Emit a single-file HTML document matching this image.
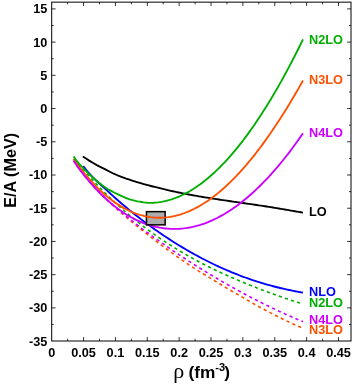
<!DOCTYPE html>
<html><head><meta charset="utf-8"><title>E/A vs rho</title>
<style>html,body{margin:0;padding:0;background:#fff;}svg{display:block;will-change:transform;}</style></head>
<body>
<svg width="355" height="384" viewBox="0 0 355 384">
<rect x="0" y="0" width="355" height="384" fill="#fff"/>
<path d="M300.10,303.08 L299.60,302.93 L297.60,302.33 L295.60,301.70 L293.60,301.07 L291.60,300.42 L289.60,299.76 L287.60,299.09 L285.60,298.41 L283.60,297.71 L281.60,297.01 L279.60,296.30 L277.60,295.59 L275.60,294.86 L273.60,294.13 L271.60,293.40 L269.60,292.66 L267.60,291.92 L265.60,291.17 L263.60,290.42 L261.60,289.67 L259.60,288.90 L257.60,288.14 L255.60,287.36 L253.60,286.58 L251.60,285.80 L249.60,285.00 L247.60,284.20 L245.60,283.39 L243.60,282.57 L241.60,281.75 L239.60,280.91 L237.60,280.07 L235.60,279.22 L233.60,278.35 L231.60,277.48 L229.60,276.60 L227.60,275.71 L225.60,274.81 L223.60,273.90 L221.60,272.98 L219.60,272.05 L217.60,271.11 L215.60,270.16 L213.60,269.20 L211.60,268.23 L209.60,267.24 L207.60,266.24 L205.60,265.23 L203.60,264.21 L201.60,263.17 L199.60,262.12 L197.60,261.06 L195.60,259.99 L193.60,258.90 L191.60,257.79 L189.60,256.68 L187.60,255.54 L185.60,254.40 L183.60,253.24 L181.60,252.06 L179.60,250.87 L177.60,249.66 L175.60,248.44 L173.60,247.20 L171.60,245.95 L169.60,244.67 L167.60,243.39 L165.60,242.08 L163.60,240.76 L161.60,239.42 L159.60,238.07 L157.60,236.69 L155.60,235.30 L153.60,233.89 L151.60,232.47 L149.60,231.02 L147.60,229.55 L145.60,228.06 L143.60,226.56 L141.60,225.03 L139.60,223.48 L137.60,221.91 L135.60,220.31 L133.60,218.70 L131.60,217.06 L129.60,215.40 L127.60,213.71 L125.60,212.00 L123.60,210.26 L121.60,208.51 L119.60,206.72 L117.60,204.92 L115.60,203.08 L113.60,201.23 L111.60,199.34 L109.60,197.43 L107.60,195.49 L105.60,193.52 L103.60,191.53 L101.60,189.51 L99.60,187.45 L97.60,185.37 L95.60,183.26 L93.60,181.12 L91.60,178.95 L89.60,176.75 L87.60,174.51 L85.60,172.25 L83.60,169.96 L81.60,167.65 L79.60,165.30 L77.60,162.87 L75.60,160.33 L73.60,157.66" fill="none" stroke="#00ae00" stroke-width="1.6" stroke-linecap="butt" stroke-linejoin="round" stroke-dasharray="3.2 3.2"/>
<path d="M301.10,327.46 L299.60,326.83 L297.60,325.96 L295.60,325.08 L293.60,324.18 L291.60,323.27 L289.60,322.34 L287.60,321.39 L285.60,320.43 L283.60,319.46 L281.60,318.47 L279.60,317.48 L277.60,316.47 L275.60,315.46 L273.60,314.43 L271.60,313.40 L269.60,312.36 L267.60,311.32 L265.60,310.26 L263.60,309.20 L261.60,308.13 L259.60,307.05 L257.60,305.95 L255.60,304.84 L253.60,303.71 L251.60,302.57 L249.60,301.41 L247.60,300.25 L245.60,299.09 L243.60,297.92 L241.60,296.75 L239.60,295.59 L237.60,294.43 L235.60,293.28 L233.60,292.12 L231.60,290.96 L229.60,289.80 L227.60,288.62 L225.60,287.44 L223.60,286.24 L221.60,285.02 L219.60,283.80 L217.60,282.57 L215.60,281.33 L213.60,280.10 L211.60,278.88 L209.60,277.66 L207.60,276.45 L205.60,275.25 L203.60,274.04 L201.60,272.84 L199.60,271.62 L197.60,270.40 L195.60,269.15 L193.60,267.88 L191.60,266.59 L189.60,265.27 L187.60,263.93 L185.60,262.58 L183.60,261.21 L181.60,259.82 L179.60,258.42 L177.60,257.00 L175.60,255.58 L173.60,254.14 L171.60,252.69 L169.60,251.23 L167.60,249.75 L165.60,248.27 L163.60,246.78 L161.60,245.28 L159.60,243.77 L157.60,242.25 L155.60,240.73 L153.60,239.20 L151.60,237.66 L149.60,236.11 L147.60,234.55 L145.60,232.98 L143.60,231.40 L141.60,229.80 L139.60,228.20 L137.60,226.58 L135.60,224.95 L133.60,223.30 L131.60,221.65 L129.60,219.97 L127.60,218.29 L125.60,216.59 L123.60,214.87 L121.60,213.14 L119.60,211.39 L117.60,209.63 L115.60,207.84 L113.60,206.04 L111.60,204.22 L109.60,202.37 L107.60,200.49 L105.60,198.57 L103.60,196.62 L101.60,194.61 L99.60,192.56 L97.60,190.44 L95.60,188.27 L93.60,186.02 L91.60,183.70 L89.60,181.30 L87.60,178.81 L85.60,176.24 L83.60,173.57 L81.60,170.82 L79.60,167.95 L77.60,164.93 L75.60,161.71 L73.60,158.26" fill="none" stroke="#ff5000" stroke-width="1.6" stroke-linecap="butt" stroke-linejoin="round" stroke-dasharray="3.2 3.2"/>
<path d="M303.00,321.66 L301.60,321.09 L299.60,320.26 L297.60,319.42 L295.60,318.57 L293.60,317.71 L291.60,316.84 L289.60,315.96 L287.60,315.08 L285.60,314.18 L283.60,313.28 L281.60,312.36 L279.60,311.44 L277.60,310.51 L275.60,309.57 L273.60,308.62 L271.60,307.67 L269.60,306.71 L267.60,305.74 L265.60,304.76 L263.60,303.77 L261.60,302.78 L259.60,301.78 L257.60,300.77 L255.60,299.75 L253.60,298.72 L251.60,297.68 L249.60,296.64 L247.60,295.59 L245.60,294.53 L243.60,293.46 L241.60,292.39 L239.60,291.30 L237.60,290.21 L235.60,289.11 L233.60,288.01 L231.60,286.89 L229.60,285.77 L227.60,284.64 L225.60,283.50 L223.60,282.36 L221.60,281.20 L219.60,280.04 L217.60,278.87 L215.60,277.69 L213.60,276.50 L211.60,275.30 L209.60,274.10 L207.60,272.89 L205.60,271.67 L203.60,270.44 L201.60,269.20 L199.60,267.96 L197.60,266.71 L195.60,265.45 L193.60,264.18 L191.60,262.91 L189.60,261.62 L187.60,260.33 L185.60,259.03 L183.60,257.72 L181.60,256.40 L179.60,255.07 L177.60,253.74 L175.60,252.40 L173.60,251.05 L171.60,249.69 L169.60,248.33 L167.60,246.95 L165.60,245.57 L163.60,244.18 L161.60,242.78 L159.60,241.38 L157.60,239.96 L155.60,238.54 L153.60,237.11 L151.60,235.66 L149.60,234.21 L147.60,232.74 L145.60,231.26 L143.60,229.77 L141.60,228.27 L139.60,226.76 L137.60,225.23 L135.60,223.68 L133.60,222.12 L131.60,220.55 L129.60,218.96 L127.60,217.35 L125.60,215.73 L123.60,214.09 L121.60,212.43 L119.60,210.75 L117.60,209.04 L115.60,207.32 L113.60,205.58 L111.60,203.82 L109.60,202.02 L107.60,200.20 L105.60,198.35 L103.60,196.45 L101.60,194.51 L99.60,192.53 L97.60,190.49 L95.60,188.40 L93.60,186.24 L91.60,184.02 L89.60,181.72 L87.60,179.35 L85.60,176.91 L83.60,174.39 L81.60,171.81 L79.60,169.12 L77.60,166.28 L75.60,163.22 L73.60,159.90" fill="none" stroke="#cc00ff" stroke-width="1.6" stroke-linecap="butt" stroke-linejoin="round" stroke-dasharray="3.2 3.2" stroke-dashoffset="1.4"/>
<path d="M82.80,156.47 L84.80,157.78 L86.80,159.09 L88.80,160.37 L90.80,161.62 L92.80,162.83 L94.80,164.00 L96.80,165.12 L98.80,166.18 L100.80,167.18 L102.80,168.16 L104.80,169.15 L106.80,170.16 L108.80,171.21 L110.80,172.25 L112.80,173.25 L114.80,174.18 L116.80,175.02 L118.80,175.81 L120.80,176.56 L122.80,177.30 L124.80,178.04 L126.80,178.77 L128.80,179.48 L130.80,180.16 L132.80,180.81 L134.80,181.43 L136.80,182.03 L138.80,182.62 L140.80,183.20 L142.80,183.79 L144.80,184.37 L146.80,184.93 L148.80,185.48 L150.80,185.99 L152.80,186.49 L154.80,186.96 L156.80,187.43 L158.80,187.90 L160.80,188.37 L162.80,188.85 L164.80,189.34 L166.80,189.83 L168.80,190.31 L170.80,190.78 L172.80,191.23 L174.80,191.67 L176.80,192.10 L178.80,192.51 L180.80,192.92 L182.80,193.33 L184.80,193.72 L186.80,194.11 L188.80,194.49 L190.80,194.87 L192.80,195.23 L194.80,195.59 L196.80,195.95 L198.80,196.30 L200.80,196.64 L202.80,196.97 L204.80,197.30 L206.80,197.63 L208.80,197.95 L210.80,198.27 L212.80,198.58 L214.80,198.89 L216.80,199.20 L218.80,199.50 L220.80,199.81 L222.80,200.10 L224.80,200.40 L226.80,200.69 L228.80,200.98 L230.80,201.27 L232.80,201.56 L234.80,201.85 L236.80,202.13 L238.80,202.42 L240.80,202.70 L242.80,202.99 L244.80,203.28 L246.80,203.56 L248.80,203.85 L250.80,204.14 L252.80,204.43 L254.80,204.72 L256.80,205.01 L258.80,205.31 L260.80,205.61 L262.80,205.91 L264.80,206.22 L266.80,206.52 L268.80,206.84 L270.80,207.16 L272.80,207.48 L274.80,207.81 L276.80,208.15 L278.80,208.48 L280.80,208.82 L282.80,209.16 L284.80,209.51 L286.80,209.85 L288.80,210.19 L290.80,210.54 L292.80,210.88 L294.80,211.22 L296.80,211.56 L298.80,211.89 L300.80,212.22 L302.80,212.55 L303.00,212.58" fill="none" stroke="#000000" stroke-width="1.85" stroke-linecap="butt" stroke-linejoin="round"/>
<path d="M83.20,166.03 L85.20,168.60 L87.20,171.03 L89.20,173.33 L91.20,175.52 L93.20,177.60 L95.20,179.60 L97.20,181.53 L99.20,183.39 L101.20,185.22 L103.20,187.03 L105.20,188.83 L107.20,190.66 L109.20,192.49 L111.20,194.33 L113.20,196.16 L115.20,197.95 L117.20,199.72 L119.20,201.46 L121.20,203.18 L123.20,204.88 L125.20,206.57 L127.20,208.23 L129.20,209.89 L131.20,211.52 L133.20,213.13 L135.20,214.72 L137.20,216.29 L139.20,217.84 L141.20,219.38 L143.20,220.90 L145.20,222.41 L147.20,223.90 L149.20,225.37 L151.20,226.82 L153.20,228.25 L155.20,229.67 L157.20,231.07 L159.20,232.46 L161.20,233.83 L163.20,235.18 L165.20,236.52 L167.20,237.85 L169.20,239.15 L171.20,240.44 L173.20,241.72 L175.20,242.97 L177.20,244.22 L179.20,245.44 L181.20,246.66 L183.20,247.85 L185.20,249.03 L187.20,250.20 L189.20,251.35 L191.20,252.49 L193.20,253.61 L195.20,254.72 L197.20,255.81 L199.20,256.89 L201.20,257.95 L203.20,259.00 L205.20,260.03 L207.20,261.04 L209.20,262.04 L211.20,263.03 L213.20,264.00 L215.20,264.96 L217.20,265.90 L219.20,266.82 L221.20,267.73 L223.20,268.63 L225.20,269.51 L227.20,270.37 L229.20,271.22 L231.20,272.06 L233.20,272.88 L235.20,273.68 L237.20,274.48 L239.20,275.25 L241.20,276.02 L243.20,276.77 L245.20,277.50 L247.20,278.22 L249.20,278.93 L251.20,279.62 L253.20,280.29 L255.20,280.96 L257.20,281.60 L259.20,282.23 L261.20,282.85 L263.20,283.45 L265.20,284.04 L267.20,284.61 L269.20,285.17 L271.20,285.71 L273.20,286.24 L275.20,286.76 L277.20,287.26 L279.20,287.75 L281.20,288.23 L283.20,288.69 L285.20,289.14 L287.20,289.59 L289.20,290.01 L291.20,290.43 L293.20,290.84 L295.20,291.24 L297.20,291.63 L299.20,292.01 L301.20,292.37 L303.00,292.70" fill="none" stroke="#0000ff" stroke-width="1.85" stroke-linecap="butt" stroke-linejoin="round"/>
<path d="M73.60,158.88 L75.60,161.78 L77.60,164.56 L79.60,167.22 L81.60,169.80 L83.60,172.29 L85.60,174.72 L87.60,177.09 L89.60,179.38 L91.60,181.60 L93.60,183.75 L95.60,185.83 L97.60,187.85 L99.60,189.79 L101.60,191.67 L103.60,193.49 L105.60,195.23 L107.60,196.90 L109.60,198.51 L111.60,200.05 L113.60,201.52 L115.60,202.93 L117.60,204.27 L119.60,205.55 L121.60,206.77 L123.60,207.91 L124.00,208.13" fill="none" stroke="#ff5000" stroke-width="1.85" stroke-linecap="butt" stroke-linejoin="round"/>
<path d="M73.60,160.75 L75.60,163.82 L77.60,166.69 L79.60,169.42 L81.60,172.03 L83.60,174.56 L85.60,177.05 L87.60,179.48 L89.60,181.85 L91.60,184.16 L93.60,186.40 L95.60,188.57 L97.60,190.69 L99.60,192.74 L101.60,194.72 L103.60,196.65 L105.60,198.52 L107.60,200.33 L109.60,202.09 L111.60,203.78 L113.60,205.41 L115.60,206.98 L117.60,208.50 L119.60,209.96 L121.60,211.36 L123.60,212.70 L125.60,213.99 L127.60,215.22 L129.60,216.40 L131.60,217.52 L133.60,218.59 L135.60,219.60 L137.60,220.55 L139.60,221.46 L141.60,222.31 L143.60,223.10 L145.60,223.85 L147.60,224.54 L149.60,225.18 L151.60,225.77 L153.60,226.30 L155.60,226.79 L157.60,227.22 L159.60,227.61 L161.60,227.94 L163.60,228.23 L165.60,228.46 L167.60,228.65 L169.60,228.79 L171.60,228.88 L173.60,228.92 L175.60,228.91 L177.60,228.86 L179.60,228.76 L181.60,228.61 L183.60,228.41 L185.60,228.16 L187.60,227.86 L189.60,227.52 L191.60,227.13 L193.60,226.69 L195.60,226.20 L197.60,225.66 L199.60,225.08 L201.60,224.45 L203.60,223.77 L205.60,223.05 L207.60,222.28 L209.60,221.46 L211.60,220.60 L213.60,219.68 L215.60,218.73 L217.60,217.73 L219.60,216.68 L221.60,215.58 L223.60,214.44 L225.60,213.26 L227.60,212.03 L229.60,210.75 L231.60,209.43 L233.60,208.07 L235.60,206.65 L237.60,205.20 L239.60,203.70 L241.60,202.15 L243.60,200.56 L245.60,198.92 L247.60,197.24 L249.60,195.52 L251.60,193.75 L253.60,191.94 L255.60,190.08 L257.60,188.18 L259.60,186.23 L261.60,184.24 L263.60,182.21 L265.60,180.13 L267.60,178.02 L269.60,175.86 L271.60,173.66 L273.60,171.41 L275.60,169.13 L277.60,166.80 L279.60,164.42 L281.60,162.01 L283.60,159.54 L285.60,157.03 L287.60,154.48 L289.60,151.87 L291.60,149.22 L293.60,146.52 L295.60,143.77 L297.60,140.97 L299.60,138.12 L301.60,135.22 L303.00,133.16" fill="none" stroke="#cc00ff" stroke-width="1.85" stroke-linecap="butt" stroke-linejoin="round"/>
<rect x="146.45" y="211.65" width="18.7" height="13.2" fill="#adadad" stroke="#000" stroke-width="1.5"/>
<path d="M118.00,204.53 L120.00,205.80 L122.00,207.00 L124.00,208.13 L126.00,209.20 L128.00,210.21 L130.00,211.15 L132.00,212.03 L134.00,212.84 L136.00,213.58 L138.00,214.27 L140.00,214.89 L142.00,215.45 L144.00,215.95 L146.00,216.38 L148.00,216.76 L150.00,217.07 L152.00,217.32 L154.00,217.51 L156.00,217.64 L158.00,217.71 L160.00,217.72 L162.00,217.67 L164.00,217.56 L166.00,217.39 L168.00,217.16 L170.00,216.87 L172.00,216.53 L174.00,216.12 L176.00,215.66 L178.00,215.15 L180.00,214.57 L182.00,213.94 L184.00,213.25 L186.00,212.50 L188.00,211.70 L190.00,210.84 L192.00,209.92 L194.00,208.96 L196.00,207.93 L198.00,206.85 L200.00,205.72 L202.00,204.53 L204.00,203.29 L206.00,202.00 L208.00,200.65 L210.00,199.25 L212.00,197.80 L214.00,196.29 L216.00,194.73 L218.00,193.12 L220.00,191.46 L222.00,189.75 L224.00,187.98 L226.00,186.17 L228.00,184.30 L230.00,182.38 L232.00,180.42 L234.00,178.40 L236.00,176.34 L238.00,174.22 L240.00,172.06 L242.00,169.85 L244.00,167.59 L246.00,165.28 L248.00,162.92 L250.00,160.52 L252.00,158.06 L254.00,155.57 L256.00,153.02 L258.00,150.43 L260.00,147.79 L262.00,145.11 L264.00,142.38 L266.00,139.61 L268.00,136.79 L270.00,133.93 L272.00,131.02 L274.00,128.07 L276.00,125.08 L278.00,122.04 L280.00,118.96 L282.00,115.84 L284.00,112.67 L286.00,109.46 L288.00,106.21 L290.00,102.92 L292.00,99.59 L294.00,96.21 L296.00,92.80 L298.00,89.34 L300.00,85.85 L302.00,82.31 L303.00,80.53" fill="none" stroke="#ff5000" stroke-width="1.85" stroke-linecap="butt" stroke-linejoin="round"/>
<path d="M73.60,156.56 L75.60,159.40 L77.60,161.96 L79.60,164.29 L81.60,166.47 L83.60,168.57 L85.60,170.62 L87.60,172.63 L89.60,174.57 L91.60,176.44 L93.60,178.23 L95.60,179.97 L97.60,181.64 L99.60,183.27 L101.60,184.83 L103.60,186.31 L105.60,187.69 L107.60,188.95 L109.60,190.10 L111.60,191.18 L113.60,192.21 L115.60,193.21 L117.60,194.19 L119.60,195.15 L121.60,196.07 L123.60,196.95 L125.60,197.78 L127.60,198.56 L129.60,199.26 L131.60,199.88 L133.60,200.43 L135.60,200.91 L137.60,201.33 L139.60,201.70 L141.60,202.03 L143.60,202.32 L145.60,202.55 L147.60,202.72 L149.60,202.81 L151.60,202.82 L153.60,202.75 L155.60,202.61 L157.60,202.39 L159.60,202.12 L161.60,201.79 L163.60,201.41 L165.60,200.97 L167.60,200.48 L169.60,199.93 L171.60,199.32 L173.60,198.64 L175.60,197.91 L177.60,197.12 L179.60,196.28 L181.60,195.37 L183.60,194.41 L185.60,193.39 L187.60,192.32 L189.60,191.19 L191.60,190.00 L193.60,188.76 L195.60,187.45 L197.60,186.09 L199.60,184.68 L201.60,183.21 L203.60,181.68 L205.60,180.10 L207.60,178.46 L209.60,176.77 L211.60,175.02 L213.60,173.22 L215.60,171.36 L217.60,169.45 L219.60,167.48 L221.60,165.47 L223.60,163.39 L225.60,161.27 L227.60,159.09 L229.60,156.85 L231.60,154.57 L233.60,152.22 L235.60,149.83 L237.60,147.39 L239.60,144.89 L241.60,142.33 L243.60,139.73 L245.60,137.07 L247.60,134.37 L249.60,131.61 L251.60,128.80 L253.60,125.93 L255.60,123.02 L257.60,120.06 L259.60,117.04 L261.60,113.98 L263.60,110.86 L265.60,107.70 L267.60,104.48 L269.60,101.22 L271.60,97.91 L273.60,94.54 L275.60,91.13 L277.60,87.67 L279.60,84.16 L281.60,80.60 L283.60,76.99 L285.60,73.33 L287.60,69.61 L289.60,65.85 L291.60,62.04 L293.60,58.17 L295.60,54.26 L297.60,50.29 L299.60,46.27 L301.60,42.20 L303.00,39.32" fill="none" stroke="#00ae00" stroke-width="1.85" stroke-linecap="butt" stroke-linejoin="round"/>
<rect x="51.7" y="2.15" width="299.3" height="338.85" fill="none" stroke="#000" stroke-width="1"/>
<path d="M67.63,341.0v-2.2M67.63,2.15v2.2M83.56,341.0v-3.9M83.56,2.15v3.9M99.50,341.0v-2.2M99.50,2.15v2.2M115.43,341.0v-3.9M115.43,2.15v3.9M131.36,341.0v-2.2M131.36,2.15v2.2M147.30,341.0v-3.9M147.30,2.15v3.9M163.23,341.0v-2.2M163.23,2.15v2.2M179.16,341.0v-3.9M179.16,2.15v3.9M195.09,341.0v-2.2M195.09,2.15v2.2M211.02,341.0v-3.9M211.02,2.15v3.9M226.96,341.0v-2.2M226.96,2.15v2.2M242.89,341.0v-3.9M242.89,2.15v3.9M258.82,341.0v-2.2M258.82,2.15v2.2M274.75,341.0v-3.9M274.75,2.15v3.9M290.69,341.0v-2.2M290.69,2.15v2.2M306.62,341.0v-3.9M306.62,2.15v3.9M322.55,341.0v-2.2M322.55,2.15v2.2M338.48,341.0v-3.9M338.48,2.15v3.9M51.7,324.49h2.0M351.0,324.49h-2.0M51.7,307.88h3.9M351.0,307.88h-3.9M51.7,291.27h2.0M351.0,291.27h-2.0M51.7,274.66h3.9M351.0,274.66h-3.9M51.7,258.05h2.0M351.0,258.05h-2.0M51.7,241.44h3.9M351.0,241.44h-3.9M51.7,224.83h2.0M351.0,224.83h-2.0M51.7,208.22h3.9M351.0,208.22h-3.9M51.7,191.61h2.0M351.0,191.61h-2.0M51.7,175.00h3.9M351.0,175.00h-3.9M51.7,158.39h2.0M351.0,158.39h-2.0M51.7,141.78h3.9M351.0,141.78h-3.9M51.7,125.17h2.0M351.0,125.17h-2.0M51.7,108.56h3.9M351.0,108.56h-3.9M51.7,91.95h2.0M351.0,91.95h-2.0M51.7,75.34h3.9M351.0,75.34h-3.9M51.7,58.73h2.0M351.0,58.73h-2.0M51.7,42.12h3.9M351.0,42.12h-3.9M51.7,25.51h2.0M351.0,25.51h-2.0M51.7,8.90h3.9M351.0,8.90h-3.9" stroke="#000" stroke-width="0.8" fill="none"/>
<text x="47.4" y="345.50" font-size="12.7" text-anchor="end" font-family="Liberation Sans, sans-serif" font-weight="bold">-35</text>
<text x="47.4" y="312.28" font-size="12.7" text-anchor="end" font-family="Liberation Sans, sans-serif" font-weight="bold">-30</text>
<text x="47.4" y="279.06" font-size="12.7" text-anchor="end" font-family="Liberation Sans, sans-serif" font-weight="bold">-25</text>
<text x="47.4" y="245.84" font-size="12.7" text-anchor="end" font-family="Liberation Sans, sans-serif" font-weight="bold">-20</text>
<text x="47.4" y="212.62" font-size="12.7" text-anchor="end" font-family="Liberation Sans, sans-serif" font-weight="bold">-15</text>
<text x="47.4" y="179.40" font-size="12.7" text-anchor="end" font-family="Liberation Sans, sans-serif" font-weight="bold">-10</text>
<text x="47.4" y="146.18" font-size="12.7" text-anchor="end" font-family="Liberation Sans, sans-serif" font-weight="bold">-5</text>
<text x="47.4" y="112.96" font-size="12.7" text-anchor="end" font-family="Liberation Sans, sans-serif" font-weight="bold">0</text>
<text x="47.4" y="79.74" font-size="12.7" text-anchor="end" font-family="Liberation Sans, sans-serif" font-weight="bold">5</text>
<text x="47.4" y="46.52" font-size="12.7" text-anchor="end" font-family="Liberation Sans, sans-serif" font-weight="bold">10</text>
<text x="47.4" y="13.30" font-size="12.7" text-anchor="end" font-family="Liberation Sans, sans-serif" font-weight="bold">15</text>
<text x="51.70" y="356.7" font-size="12.7" text-anchor="middle" font-family="Liberation Sans, sans-serif" font-weight="bold">0</text>
<text x="83.56" y="356.7" font-size="12.7" text-anchor="middle" font-family="Liberation Sans, sans-serif" font-weight="bold">0.05</text>
<text x="115.43" y="356.7" font-size="12.7" text-anchor="middle" font-family="Liberation Sans, sans-serif" font-weight="bold">0.1</text>
<text x="147.30" y="356.7" font-size="12.7" text-anchor="middle" font-family="Liberation Sans, sans-serif" font-weight="bold">0.15</text>
<text x="179.16" y="356.7" font-size="12.7" text-anchor="middle" font-family="Liberation Sans, sans-serif" font-weight="bold">0.2</text>
<text x="211.02" y="356.7" font-size="12.7" text-anchor="middle" font-family="Liberation Sans, sans-serif" font-weight="bold">0.25</text>
<text x="242.89" y="356.7" font-size="12.7" text-anchor="middle" font-family="Liberation Sans, sans-serif" font-weight="bold">0.3</text>
<text x="274.75" y="356.7" font-size="12.7" text-anchor="middle" font-family="Liberation Sans, sans-serif" font-weight="bold">0.35</text>
<text x="306.62" y="356.7" font-size="12.7" text-anchor="middle" font-family="Liberation Sans, sans-serif" font-weight="bold">0.4</text>
<text x="338.48" y="356.7" font-size="12.7" text-anchor="middle" font-family="Liberation Sans, sans-serif" font-weight="bold">0.45</text>
<text x="309" y="43.6" font-size="12.75" fill="#00ae00" font-family="Liberation Sans, sans-serif" font-weight="bold">N2LO</text>
<text x="309" y="84.2" font-size="12.75" fill="#ff5000" font-family="Liberation Sans, sans-serif" font-weight="bold">N3LO</text>
<text x="309" y="136.8" font-size="12.75" fill="#cc00ff" font-family="Liberation Sans, sans-serif" font-weight="bold">N4LO</text>
<text x="309" y="215.5" font-size="12.75" fill="#000000" font-family="Liberation Sans, sans-serif" font-weight="bold">LO</text>
<text x="309" y="296.1" font-size="12.75" fill="#0000ff" font-family="Liberation Sans, sans-serif" font-weight="bold">NLO</text>
<text x="309" y="307.1" font-size="12.75" fill="#00ae00" font-family="Liberation Sans, sans-serif" font-weight="bold">N2LO</text>
<text x="309" y="323.6" font-size="12.75" fill="#cc00ff" font-family="Liberation Sans, sans-serif" font-weight="bold">N4LO</text>
<text x="309" y="334.1" font-size="12.75" fill="#ff5000" font-family="Liberation Sans, sans-serif" font-weight="bold">N3LO</text>
<text transform="translate(15.5,207.8) rotate(-90)" font-size="16.2" font-family="Liberation Sans, sans-serif" font-weight="bold">E/A (MeV)</text>
<text x="173.3" y="377.6" font-size="17.3" font-family="Liberation Sans, sans-serif" font-weight="bold"><tspan font-family="Liberation Serif, serif" font-weight="normal" font-size="22">ρ</tspan><tspan dx="-0.6"> (fm</tspan><tspan dy="-6.6" font-size="11">-3</tspan><tspan dy="6.6" dx="-0.8">)</tspan></text>
</svg>
</body></html>
